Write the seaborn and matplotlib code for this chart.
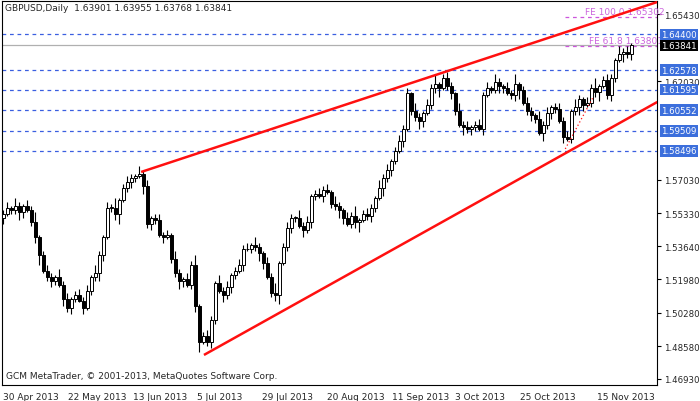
import numpy as np
import pandas as pd
import seaborn as sns
import matplotlib
matplotlib.use("Agg")
import matplotlib.pyplot as plt

# daily closes GBPUSD (bar 0 = 30 Apr 2013)
closes = [1.553, 1.556, 1.555, 1.557, 1.554, 1.557, 1.555, 1.549, 1.541, 1.532,
          1.524, 1.521, 1.519, 1.521, 1.517, 1.510, 1.505, 1.510, 1.512, 1.509,
          1.505, 1.514, 1.521, 1.523, 1.532, 1.541, 1.556, 1.556, 1.553, 1.560,
          1.566, 1.569, 1.571, 1.572, 1.573, 1.567, 1.548, 1.551, 1.550, 1.542,
          1.541, 1.542, 1.530, 1.523, 1.519, 1.520, 1.517, 1.527, 1.506, 1.488,
          1.491, 1.488, 1.499, 1.518, 1.514, 1.512, 1.516, 1.522, 1.524, 1.527,
          1.535, 1.535, 1.537, 1.536, 1.533, 1.528, 1.521, 1.513, 1.512, 1.528,
          1.536, 1.546, 1.551, 1.551, 1.547, 1.545, 1.549, 1.562, 1.563, 1.562,
          1.565, 1.564, 1.558, 1.557, 1.555, 1.551, 1.548, 1.552, 1.549, 1.550,
          1.553, 1.552, 1.556, 1.561, 1.566, 1.571, 1.575, 1.580, 1.585, 1.590,
          1.596, 1.614, 1.605, 1.602, 1.600, 1.604, 1.608, 1.617, 1.619, 1.617,
          1.622, 1.618, 1.614, 1.605, 1.598, 1.597, 1.596, 1.597, 1.598, 1.596,
          1.613, 1.617, 1.616, 1.620, 1.618, 1.617, 1.614, 1.613, 1.619, 1.616,
          1.609, 1.605, 1.603, 1.601, 1.594, 1.598, 1.604, 1.607, 1.606, 1.600,
          1.592, 1.591, 1.605, 1.607, 1.611, 1.608, 1.609, 1.617, 1.615, 1.618,
          1.621, 1.613, 1.622, 1.631, 1.634, 1.635, 1.634, 1.63841]
first_open = 1.551
wick_up = [0.002, 0.003, 0.001, 0.004, 0.002, 0.001, 0.003, 0.002, 0.005, 0.001,
           0.002, 0.003, 0.002, 0.001, 0.004, 0.002, 0.003, 0.001, 0.002, 0.003]
wick_dn = [0.003, 0.001, 0.002, 0.002, 0.004, 0.003, 0.001, 0.002, 0.003, 0.005,
           0.001, 0.002, 0.003, 0.002, 0.001, 0.004, 0.002, 0.003, 0.002, 0.001]

tick_pos = [0, 16.25, 32.5, 48.5, 64.75, 81, 97.25, 113, 129.25, 148.5]
tick_lab = ["30 Apr 2013", "22 May 2013", "13 Jun 2013", "5 Jul 2013", "29 Jul 2013",
            "20 Aug 2013", "11 Sep 2013", "3 Oct 2013", "25 Oct 2013", "15 Nov 2013"]
# ticks hidden behind the level boxes (1.63590, 1.60380, 1.58690) are left out
price_ticks = [1.65430, 1.62030, 1.57030, 1.55330,
               1.53640, 1.51980, 1.50280, 1.48580, 1.46930]
levels = [1.64400, 1.62578, 1.61595, 1.60552, 1.59509, 1.58496]
fe_levels = [1.65302, 1.63801]
fe_labels = ["FE 100.0 1.65302", "FE 61.8 1.63801"]
upper_line = ([34.5, 163.5], [1.5742, 1.6604])
lower_line = ([50.2, 163.5], [1.4814, 1.6097])
fe_guide = ([140.5, 147.5], [1.5859, 1.6123])

n = len(closes)
df = pd.DataFrame({"i": np.arange(n), "close": closes})
df["open"] = [first_open] + closes[:-1]
df["high"] = df[["open", "close"]].max(axis=1) + np.resize(wick_up, n)
df["low"] = df[["open", "close"]].min(axis=1) - np.resize(wick_dn, n)
df["bull"] = df["close"] >= df["open"]

sns.set_style("white")
plt.rcParams["font.family"] = ["DejaVu Sans"]
fig = plt.figure(figsize=(7, 4.02), dpi=100)
ax = fig.add_axes([0.003, 0.040, 0.936, 0.955])
ax.set_xlim(-0.25, 163.5)
ax.set_ylim(1.4662, 1.6609)

for lv in levels:
    ax.axhline(lv, color="#3a5fe0", lw=0.9, ls=(0, (3, 3)))
ax.axhline(closes[-1], color="#b0b0b0", lw=0.9)
for lv in fe_levels:
    ax.plot([140.5, 163.5], [lv, lv], color="#cc55dd", lw=0.9, ls=(0, (3, 3)))
ax.text(145.5, 1.65302 + 0.0004, fe_labels[0], color="#cc66dd", fontsize=6.5, va="bottom")
ax.text(146.5, 1.63801 + 0.0004, fe_labels[1], color="#cc66dd", fontsize=6.5, va="bottom")

ax.vlines(df["i"], df["low"], df["high"], color="black", lw=0.8, zorder=3)
bodies = (df["close"] - df["open"]).abs().clip(lower=0.0003)
ax.bar(df["i"], bodies, bottom=df[["open", "close"]].min(axis=1), width=0.7,
       color=np.where(df["bull"], "white", "black"), edgecolor="black", lw=0.7, zorder=4)

ax.plot(*upper_line, color="#ff1010", lw=1.8, zorder=5, solid_capstyle="butt")
ax.plot(*lower_line, color="#ff1010", lw=1.8, zorder=5, solid_capstyle="butt")
ax.plot(*fe_guide, color="#ff1010", lw=0.9, ls=(0, (1, 2)), zorder=5)

ax.set_xticks(tick_pos)
ax.set_xticklabels(tick_lab, fontsize=6.5, ha="left")
ax.yaxis.tick_right()
ax.set_yticks(price_ticks)
ax.set_yticklabels([f"{p:.5f}" for p in price_ticks], fontsize=6.2)
ax.tick_params(axis="y", length=3, pad=1.5, color="black")
ax.tick_params(axis="x", length=3, pad=2, color="black")
for s in ax.spines.values():
    s.set_color("black")
    s.set_linewidth(0.8)

box = dict(boxstyle="square,pad=0.15", fc="#3c6fdc", ec="none")
for lv in levels:
    ax.text(1.006, lv, f"{lv:.5f}", transform=ax.get_yaxis_transform(), fontsize=6.2,
            color="white", va="center", ha="left", bbox=box)
ax.text(1.006, closes[-1], f"{closes[-1]:.5f}", transform=ax.get_yaxis_transform(),
        fontsize=6.2, color="white", va="center", ha="left",
        bbox=dict(boxstyle="square,pad=0.15", fc="black", ec="none"))

ax.text(0.004, 0.995, "GBPUSD,Daily  1.63901 1.63955 1.63768 1.63841", transform=ax.transAxes,
        fontsize=6.5, va="top", ha="left")
ax.text(0.006, 0.012, "GCM MetaTrader, © 2001-2013, MetaQuotes Software Corp.",
        transform=ax.transAxes, fontsize=6.5, va="bottom", ha="left")

fig.savefig("out.png", dpi=100)
